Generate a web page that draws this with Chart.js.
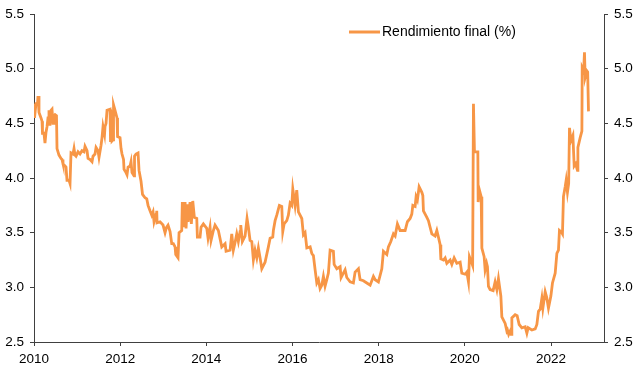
<!DOCTYPE html>
<html>
<head>
<meta charset="utf-8">
<script src="https://cdn.jsdelivr.net/npm/chart.js@4"></script>
<style>
  body{margin:0;background:#fff;}
  canvas{display:block;}
</style>
</head>
<body>
<canvas id="chart" width="640" height="367"></canvas>
<script>
const seriesLabel = "Rendimiento final (%)";
const years = [
  2010.000,2010.012,2010.046,2010.081,2010.093,2010.116,2010.163,2010.186,2010.197,2010.232,
  2010.255,2010.279,2010.302,2010.325,2010.348,2010.371,2010.395,2010.418,2010.441,2010.464,
  2010.488,2010.522,2010.534,2010.580,2010.627,2010.650,2010.673,2010.720,2010.743,2010.766,
  2010.813,2010.836,2010.859,2010.906,2010.929,2010.952,2010.975,2011.022,2011.068,2011.114,
  2011.161,2011.184,2011.231,2011.254,2011.300,2011.347,2011.370,2011.416,2011.440,2011.486,
  2011.509,2011.556,2011.579,2011.602,2011.637,2011.648,2011.672,2011.695,2011.765,2011.776,
  2011.799,2011.811,2011.834,2011.846,2011.881,2011.927,2011.939,2011.997,2012.020,2012.043,
  2012.078,2012.090,2012.136,2012.159,2012.183,2012.229,2012.252,2012.275,2012.322,2012.333,
  2012.368,2012.415,2012.438,2012.484,2012.519,2012.577,2012.617,
  2012.647,2012.693,2012.733,2012.763,2012.786,2012.833,2012.849,2012.856,2012.926,2012.995,
  2013.042,2013.076,2013.111,2013.158,2013.197,2013.234,2013.274,2013.290,2013.343,2013.367,
  2013.429,2013.443,2013.466,2013.506,2013.529,2013.559,2013.576,2013.622,2013.652,2013.685,
  2013.722,2013.778,2013.792,2013.854,2013.877,2013.931,2013.970,2014.010,2014.040,2014.086,
  2014.110,2014.163,2014.202,2014.279,2014.358,2014.435,2014.458,2014.551,2014.590,2014.627,
  2014.667,2014.706,2014.743,2014.783,2014.799,2014.836,2014.899,2014.945,2014.976,2015.015,
  2015.055,2015.092,2015.131,2015.171,2015.208,2015.247,2015.287,2015.363,2015.440,2015.480,
  2015.542,2015.556,2015.596,2015.635,2015.695,2015.751,2015.774,2015.805,2015.867,2015.904,
  2015.944,2015.983,2016.007,2016.060,2016.099,2016.137,2016.216,2016.253,2016.292,2016.332,
  2016.409,2016.448,2016.485,2016.525,2016.564,2016.601,2016.640,
  2016.680,2016.717,2016.756,2016.796,2016.833,2016.873,2016.949,2016.966,2017.028,2017.105,
  2017.128,2017.181,2017.221,2017.260,2017.337,2017.413,2017.453,2017.530,2017.569,2017.646,
  2017.725,2017.802,2017.878,2017.918,2017.994,2018.073,2018.110,2018.189,2018.226,2018.282,
  2018.342,2018.382,2018.435,2018.498,2018.614,2018.667,2018.730,2018.769,2018.793,2018.846,
  2018.869,2018.899,2018.939,2019.002,2019.025,2019.039,2019.118,2019.155,2019.194,2019.234,
  2019.310,2019.350,2019.387,2019.427,2019.443,2019.503,2019.543,2019.582,2019.659,2019.698,
  2019.752,2019.814,2019.891,2019.930,2020.007,2020.046,2020.084,2020.107,2020.163,2020.181,
  2020.200,2020.223,2020.302,2020.309,2020.332,2020.379,2020.395,2020.448,2020.471,2020.506,
  2020.525,2020.548,2020.587,2020.657,2020.703,2020.743,2020.780,2020.836,2020.859,2020.936,
  2020.975,2020.989,2021.017,2021.052,2021.075,2021.091,2021.168,2021.214,2021.261,2021.324,
  2021.400,2021.440,2021.470,2021.556,2021.633,2021.672,2021.709,2021.749,2021.788,2021.811,
  2021.865,2021.900,2021.941,2021.997,2022.034,2022.097,2022.136,2022.173,2022.196,2022.252,
  2022.266,2022.289,2022.329,2022.352,2022.382,2022.410,2022.429,2022.461,2022.508,2022.538,
  2022.572,2022.614,2022.624,2022.677,2022.717,2022.724,2022.758,2022.777,2022.793,2022.833,
  2022.851,2022.870
];
const values = [
  4.68,4.55,4.68,4.68,4.75,4.60,4.55,4.52,4.41,4.41,
  4.32,4.42,4.47,4.55,4.62,4.48,4.62,4.63,4.50,4.57,
  4.58,4.57,4.27,4.21,4.18,4.17,4.13,4.11,4.10,3.98,
  3.98,3.95,4.23,4.22,4.27,4.21,4.20,4.24,4.22,4.25,
  4.24,4.29,4.25,4.18,4.17,4.15,4.20,4.22,4.28,4.25,
  4.19,4.30,4.37,4.47,4.40,4.47,4.50,4.62,4.63,4.33,
  4.62,4.34,4.35,4.67,4.62,4.55,4.38,4.37,4.27,4.22,
  4.17,4.08,4.05,4.03,4.10,4.11,4.15,4.05,4.02,4.20,
  4.22,4.23,4.07,3.97,3.85,3.82,3.81,
  3.75,3.70,3.66,3.69,3.60,3.67,3.70,3.59,3.60,3.57,
  3.50,3.55,3.57,3.51,3.40,3.40,3.37,3.30,3.27,3.50,
  3.52,3.78,3.55,3.78,3.54,3.76,3.60,3.78,3.58,3.79,
  3.64,3.63,3.46,3.46,3.55,3.58,3.56,3.54,3.45,3.55,
  3.43,3.52,3.57,3.52,3.37,3.40,3.33,3.34,3.49,3.34,
  3.41,3.49,3.42,3.51,3.57,3.42,3.47,3.63,3.55,3.43,
  3.42,3.25,3.34,3.27,3.36,3.27,3.17,3.23,3.37,3.45,
  3.46,3.52,3.61,3.66,3.75,3.74,3.51,3.58,3.61,3.66,
  3.77,3.75,3.90,3.75,3.89,3.69,3.63,3.48,3.50,3.36,
  3.37,3.31,3.29,3.16,3.04,3.07,2.99,
  3.02,3.10,3.01,3.07,3.13,3.34,3.33,3.21,3.17,3.19,
  3.09,3.13,3.16,3.09,3.05,3.04,3.14,3.17,3.07,3.06,
  3.04,3.02,3.10,3.07,3.05,3.17,3.33,3.30,3.37,3.42,
  3.49,3.47,3.58,3.52,3.52,3.60,3.63,3.67,3.75,3.74,
  3.83,3.80,3.92,3.87,3.84,3.70,3.64,3.61,3.55,3.49,
  3.47,3.52,3.46,3.39,3.26,3.25,3.27,3.22,3.25,3.21,
  3.27,3.22,3.23,3.13,3.12,3.14,3.05,3.28,3.22,3.20,
  4.68,4.24,4.24,3.78,3.90,3.83,3.36,3.28,3.16,3.22,
  3.19,3.01,2.98,2.97,3.05,2.98,3.08,2.92,2.73,2.67,
  2.60,2.61,2.57,2.60,2.57,2.72,2.75,2.74,2.66,2.63,
  2.64,2.58,2.63,2.61,2.62,2.66,2.78,2.80,2.90,2.81,
  2.96,2.91,2.81,2.92,3.04,3.13,3.31,3.34,3.52,3.50,
  3.49,3.83,3.92,3.98,3.87,3.95,4.46,4.34,4.39,4.11,
  4.13,4.07,4.28,4.37,4.43,5.01,4.98,5.15,4.92,4.98,
  4.97,4.61
];
const xTicks = [2010, 2012, 2014, 2016, 2018, 2020, 2022];
const yTicks = [2.5, 3.0, 3.5, 4.0, 4.5, 5.0, 5.5];

const lineColor = 'rgb(247,150,70)';
const axisColor = '#404040';
const font = {family: "'Liberation Sans', Arial, sans-serif", size: 13.5};

const legendPlugin = {
  id: 'insideLegend',
  afterDraw(chart) {
    const c = chart.ctx;
    c.save();
    c.strokeStyle = lineColor;
    c.lineWidth = 3;
    c.beginPath();
    c.moveTo(349, 32);
    c.lineTo(380, 32);
    c.stroke();
    c.fillStyle = '#000';
    c.font = "14px 'Liberation Sans', Arial, sans-serif";
    c.textBaseline = 'middle';
    c.fillText(chart.data.datasets[0].label, 382, 32);
    c.restore();
  }
};

const yAxis = (pos, width) => ({
  position: pos,
  min: 2.5, max: 5.5,
  afterBuildTicks: s => { s.ticks = yTicks.map(v => ({value: v})); },
  afterFit: s => { s.width = width; },
  grid: {drawOnChartArea: false, drawTicks: true, tickLength: 4, color: axisColor},
  border: {display: true, color: axisColor, width: 1},
  ticks: {color: '#000', font, padding: 6, callback: v => v.toFixed(1)}
});

new Chart(document.getElementById('chart'), {
  type: 'line',
  data: {
    datasets: [{
      label: seriesLabel,
      data: years.map((x, i) => ({x: x, y: values[i]})),
      borderColor: lineColor,
      backgroundColor: lineColor,
      borderWidth: 2.8,
      pointRadius: 0,
      tension: 0,
      fill: false,
      yAxisID: 'y'
    }]
  },
  options: {
    responsive: false,
    animation: false,
    devicePixelRatio: 1,
    layout: {padding: {top: 13, left: 0, right: 0, bottom: 0}},
    plugins: {legend: {display: false}, tooltip: {enabled: false}},
    scales: {
      x: {
        type: 'linear',
        min: 2010, max: 2023.23,
        afterBuildTicks: s => { s.ticks = xTicks.map(v => ({value: v})); },
        afterFit: s => { s.height = 25; },
        grid: {drawOnChartArea: false, drawTicks: true, tickLength: 4, color: axisColor},
        border: {display: true, color: axisColor, width: 1},
        ticks: {color: '#000', font, padding: 5, maxRotation: 0, callback: v => String(v)}
      },
      y: yAxis('left', 34),
      y2: yAxis('right', 36)
    }
  },
  plugins: [legendPlugin]
});
</script>
</body>
</html>
